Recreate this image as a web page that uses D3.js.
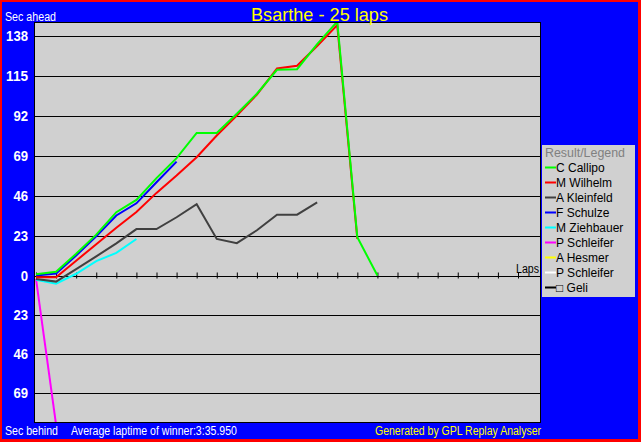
<!DOCTYPE html>
<html><head><meta charset="utf-8">
<script src="https://cdn.jsdelivr.net/npm/d3@7"></script>
<style>html,body{margin:0;padding:0;background:#fff}svg{display:block}text{font-family:"Liberation Sans",Arial,sans-serif}</style>
</head><body>
<script>
// ---- data ----
const titleText = "Bsarthe - 25 laps";
const drivers = ["C Callipo","M Wilhelm","A Kleinfeld","F Schulze","M Ziehbauer","P Schleifer","A Hesmer","P Schleifer","\u25A1 Geli"];
const colors  = ["#00ff00","#ff0000","#404040","#0000ff","#00ffff","#ff00ff","#ffff00","#ffffff","#000000"];
// seconds ahead (+) / behind (-), one value per lap starting at lap 0
const callipo   = [0.7, 2.1, 12.5, 23.5, 36.4, 43.5, 56, 67.5, 82, 82, 93, 104.5, 118.3, 118.6, 133, 146, 22, 0];
const wilhelm   = [-1, -1, 8.5, 18, 27.5, 36.5, 47.5, 57.5, 68, 80.5, 92, 104, 119, 120.6, 132, 144, 21];
const kleinfeld = [-2, -3.6, 3.7, 11, 18.5, 26.7, 26.7, 33.5, 41, 21, 18.6, 26, 35, 35, 42];
const schulze   = [0, 1.1, 11.5, 22.5, 34.5, 41.5, 53.6, 65.5];
const ziehbauer = [-2.5, -4.8, 1, 8.3, 13, 21];
const schleifer = [-2, -88];
const hesmer    = [];
const schleifer2= [];
const geli      = [];
const seriesValues = [callipo, wilhelm, kleinfeld, schulze, ziehbauer, schleifer, hesmer, schleifer2, geli];
const yTicks = [138, 115, 92, 69, 46, 23, 0, -23, -46, -69];
const lapTicks = d3.range(0, 25);

// ---- layout ----
const W = 641, H = 442;
const PL = 34, PR = 540, PT = 22, PB = 422;
const font = '"Liberation Sans",Arial,sans-serif';

const svg = d3.select("body").append("svg").attr("width", W).attr("height", H);
svg.append("rect").attr("width", W).attr("height", H).attr("fill", "#ff0000");
svg.append("rect").attr("x", 2).attr("y", 2).attr("width", 636).attr("height", 437).attr("fill", "#0000ff");
svg.append("rect").attr("x", PL).attr("y", PT).attr("width", PR - PL).attr("height", PB - PT).attr("fill", "#d0d0d0");

const x = d3.scaleLinear().domain([0, 24]).range([36, 518]);
const y = d3.scaleLinear().domain([-69, 0, 138]).range([392.5, 275.5, 35.5]);

// grid lines
const grid = svg.append("g").attr("transform", `translate(${PL},0)`)
  .call(d3.axisLeft(y).tickValues(yTicks).tickSize(-(PR - PL)).tickFormat(""));
grid.select(".domain").remove();
grid.selectAll(".tick line").attr("stroke", "#000").attr("stroke-width", 1).attr("shape-rendering", "crispEdges");

// y labels
const yl = svg.append("g").attr("transform", `translate(${PL},0)`)
  .call(d3.axisLeft(y).tickValues(yTicks).tickSize(0).tickPadding(6).tickFormat(d => Math.abs(d)));
yl.select(".domain").remove();
yl.selectAll(".tick text").attr("fill", "#fff").attr("font-family", font).attr("font-weight", "bold")
  .attr("font-size", 15).attr("dy", "0.36em")
  .attr("textLength", function () { return this.textContent.length * 7.3; })
  .attr("lengthAdjust", "spacingAndGlyphs");

// x ticks on zero line
const xa = svg.append("g").attr("transform", `translate(0,${y(0) - 3})`)
  .call(d3.axisBottom(x).tickValues(lapTicks).tickSize(6).tickFormat(""));
xa.select(".domain").remove();
xa.selectAll(".tick line").attr("stroke", "#000");

svg.append("text").attr("x", 539).attr("y", 272.5).attr("text-anchor", "end")
  .attr("font-size", 12).attr("fill", "#000").attr("font-family", font)
  .attr("textLength", 23).attr("lengthAdjust", "spacingAndGlyphs").text("Laps");

// lines
svg.append("clipPath").attr("id", "clip").append("rect")
  .attr("x", PL).attr("y", PT).attr("width", PR - PL).attr("height", PB - PT);
const line = d3.line().x((d, i) => x(i)).y(d => y(d));
const order = d3.range(seriesValues.length).reverse();
svg.append("g").attr("clip-path", "url(#clip)").selectAll("path")
  .data(order.filter(i => seriesValues[i].length > 1)).join("path")
  .attr("d", i => line(seriesValues[i]))
  .attr("fill", "none").attr("stroke", i => colors[i]).attr("stroke-width", 2)
  .attr("stroke-linejoin", "miter");

// frame
svg.append("rect").attr("x", PL + 0.5).attr("y", PT + 0.5).attr("width", PR - PL).attr("height", PB - PT)
  .attr("fill", "none").attr("stroke", "#000").attr("stroke-width", 1);

// title and texts
svg.append("text").attr("x", 251).attr("y", 20.5).attr("font-size", 19).attr("fill", "#ffff00")
  .attr("font-family", font).attr("textLength", 137).attr("lengthAdjust", "spacingAndGlyphs").text(titleText);
svg.append("text").attr("x", 5).attr("y", 20.5).attr("font-size", 12).attr("fill", "#fff")
  .attr("font-family", font).attr("textLength", 51).attr("lengthAdjust", "spacingAndGlyphs").text("Sec ahead");
svg.append("text").attr("x", 5).attr("y", 435).attr("font-size", 12).attr("fill", "#fff")
  .attr("font-family", font).attr("textLength", 53).attr("lengthAdjust", "spacingAndGlyphs").text("Sec behind");
svg.append("text").attr("x", 71).attr("y", 435).attr("font-size", 12).attr("fill", "#fff")
  .attr("font-family", font).attr("textLength", 166).attr("lengthAdjust", "spacingAndGlyphs").text("Average laptime of winner:3:35.950");
svg.append("text").attr("x", 375).attr("y", 435).attr("font-size", 12).attr("fill", "#ffff00")
  .attr("font-family", font).attr("textLength", 166).attr("lengthAdjust", "spacingAndGlyphs").text("Generated by GPL Replay Analyser");

// legend
const lg = svg.append("g");
lg.append("rect").attr("x", 542).attr("y", 145).attr("width", 93).attr("height", 152).attr("fill", "#d0d0d0");
lg.append("text").attr("x", 545).attr("y", 156.5).attr("font-size", 12).attr("fill", "#808080")
  .attr("font-family", font).attr("textLength", 80).attr("lengthAdjust", "spacingAndGlyphs").text("Result/Legend");
const items = lg.selectAll("g.item").data(drivers).join("g").attr("class", "item")
  .attr("transform", (d, i) => `translate(0,${171.5 + i * 15})`);
items.append("line").attr("x1", 545).attr("x2", 556).attr("y1", -4).attr("y2", -4)
  .attr("stroke", (d, i) => colors[i]).attr("stroke-width", 2);
items.append("text").attr("x", 556).attr("y", 0).attr("font-size", 12).attr("fill", "#000")
  .attr("font-family", font).text(d => d);
</script>
</body></html>
